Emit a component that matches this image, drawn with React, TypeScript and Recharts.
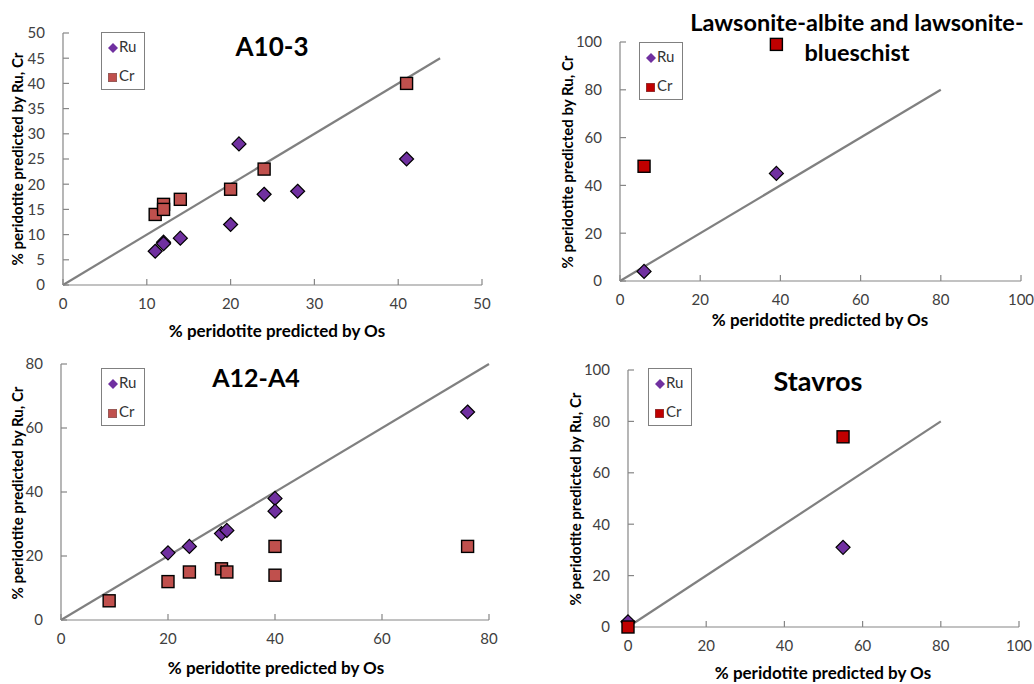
import React from "react";
import { ScatterChart, Scatter, XAxis, YAxis, ReferenceLine } from "recharts";

// A10-3
const a10RuOs = [11, 12, 12, 14, 20, 21, 24, 28, 41];
const a10RuPred = [6.7, 8.5, 8.2, 9.3, 12, 28, 18, 18.6, 25];
const a10CrOs = [11, 12, 12, 14, 20, 24, 41];
const a10CrPred = [14, 16, 15, 17, 19, 23, 40];
const a10Ticks = [0, 10, 20, 30, 40, 50];
const a10YTicks = [0, 5, 10, 15, 20, 25, 30, 35, 40, 45, 50];

// Lawsonite-albite and lawsonite-blueschist
const lawRuOs = [6, 39];
const lawRuPred = [4, 45];
const lawCrOs = [6, 39];
const lawCrPred = [48, 99];

// A12-A4
const a12RuOs = [20, 24, 30, 31, 40, 40, 76];
const a12RuPred = [21, 23, 27, 28, 38, 34, 65];
const a12CrOs = [9, 20, 24, 30, 31, 40, 40, 76];
const a12CrPred = [6, 12, 15, 16, 15, 23, 14, 23];
const a12Ticks = [0, 20, 40, 60, 80];

// Stavros
const stavRuOs = [0, 55];
const stavRuPred = [2, 31];
const stavCrOs = [0, 55];
const stavCrPred = [0, 74];

const pctTicks = [0, 20, 40, 60, 80, 100];

const RU = "#7030A0";
const CR_LIGHT = "#C0504D";
const CR_DARK = "#C00000";
const FONT = "Lato, 'Open Sans', sans-serif";

const zip = (xs: number[], ys: number[]) => xs.map((x, i) => ({ x, y: ys[i] }));

const Diamond = (props: any) => {
  const { cx, cy } = props;
  const r = 7;
  return (
    <path
      d={`M${cx},${cy - r}L${cx + r},${cy}L${cx},${cy + r}L${cx - r},${cy}Z`}
      fill={RU}
      stroke="#000"
      strokeWidth={1.2}
    />
  );
};

const makeSquare = (fill: string) => (props: any) => {
  const { cx, cy } = props;
  const s = 12;
  return (
    <rect
      x={cx - s / 2}
      y={cy - s / 2}
      width={s}
      height={s}
      fill={fill}
      stroke="#000"
      strokeWidth={1.4}
    />
  );
};

const LegendBox = ({ crColor, left, top }: { crColor: string; left: number; top: number }) => (
  <div
    style={{
      position: "absolute",
      left,
      top,
      width: 44,
      height: 58,
      border: "1px solid #808080",
      background: "#fff",
      fontFamily: FONT,
      fontSize: 15,
      color: "#333",
      boxSizing: "border-box",
    }}
  >
    <svg width={10} height={10} style={{ position: "absolute", left: 6, top: 10 }}>
      <path d="M5,0L10,5L5,10L0,5Z" fill={RU} />
    </svg>
    <span style={{ position: "absolute", left: 17, top: 4 }}>Ru</span>
    <svg width={9} height={9} style={{ position: "absolute", left: 6, top: 40 }}>
      <rect x={0} y={0} width={9} height={9} fill={crColor} stroke="#666" strokeWidth={0.8} />
    </svg>
    <span style={{ position: "absolute", left: 17, top: 33 }}>Cr</span>
  </div>
);

interface PanelProps {
  left: number;
  top: number;
  width: number;
  height: number;
  margin: { top: number; right: number; bottom: number; left: number };
  domain: number;
  xTicks: number[];
  yTicks: number[];
  lineEnd: number;
  ru: { x: number; y: number }[];
  cr: { x: number; y: number }[];
  crColor: string;
}

function Panel(p: PanelProps) {
  const tick = { fill: "#404040", fontSize: 15, fontFamily: FONT };
  return (
    <div style={{ position: "absolute", left: p.left, top: p.top }}>
      <ScatterChart width={p.width} height={p.height} margin={p.margin}>
        <XAxis
          type="number"
          dataKey="x"
          domain={[0, p.domain]}
          ticks={p.xTicks}
          height={30}
          tick={tick}
          tickSize={-6}
          tickMargin={19}
          stroke="#868686"
          strokeWidth={1.2}
        />
        <YAxis
          type="number"
          dataKey="y"
          domain={[0, p.yTicks[p.yTicks.length - 1]]}
          ticks={p.yTicks}
          width={40}
          tick={tick}
          tickSize={-6}
          tickMargin={24}
          stroke="#868686"
          strokeWidth={1.2}
        />
        <ReferenceLine
          segment={[
            { x: 0, y: 0 },
            { x: p.lineEnd, y: p.lineEnd },
          ]}
          stroke="#808080"
          strokeWidth={2.2}
          ifOverflow="visible"
        />
        <Scatter name="Ru" data={p.ru} shape={Diamond} isAnimationActive={false} />
        <Scatter name="Cr" data={p.cr} shape={makeSquare(p.crColor)} isAnimationActive={false} />
      </ScatterChart>
    </div>
  );
}

const absText = (
  text: React.ReactNode,
  cx: number,
  cy: number,
  size: number,
  rotate = false,
  extra: React.CSSProperties = {}
) => (
  <div
    style={{
      position: "absolute",
      left: cx,
      top: cy,
      transform: `translate(-50%, -50%)${rotate ? " rotate(-90deg)" : ""}`,
      whiteSpace: "nowrap",
      fontFamily: FONT,
      fontWeight: 700,
      fontSize: size,
      color: "#000",
      lineHeight: 1.1,
      textAlign: "center",
      ...extra,
    }}
  >
    {text}
  </div>
);

export default function App() {
  const yLabel = "% peridotite predicted by Ru, Cr";
  const xLabel = "% peridotite predicted by Os";
  return (
    <div
      style={{
        position: "absolute",
        left: 0,
        top: 0,
        width: 1034,
        height: 684,
        background: "#fff",
        overflow: "hidden",
      }}
    >
      <Panel
        left={0}
        top={0}
        width={500}
        height={340}
        margin={{ top: 33, right: 18, bottom: 25, left: 23 }}
        domain={50}
        xTicks={a10Ticks}
        yTicks={a10YTicks}
        lineEnd={45}
        ru={zip(a10RuOs, a10RuPred)}
        cr={zip(a10CrOs, a10CrPred)}
        crColor={CR_LIGHT}
      />
      <Panel
        left={560}
        top={0}
        width={474}
        height={340}
        margin={{ top: 42, right: 13, bottom: 29, left: 20 }}
        domain={100}
        xTicks={pctTicks}
        yTicks={pctTicks}
        lineEnd={80}
        ru={zip(lawRuOs, lawRuPred)}
        cr={zip(lawCrOs, lawCrPred)}
        crColor={CR_DARK}
      />
      <Panel
        left={0}
        top={340}
        width={500}
        height={344}
        margin={{ top: 24, right: 11, bottom: 34, left: 21 }}
        domain={80}
        xTicks={a12Ticks}
        yTicks={a12Ticks}
        lineEnd={80}
        ru={zip(a12RuOs, a12RuPred)}
        cr={zip(a12CrOs, a12CrPred)}
        crColor={CR_LIGHT}
      />
      <Panel
        left={560}
        top={340}
        width={474}
        height={344}
        margin={{ top: 30, right: 15, bottom: 27, left: 28 }}
        domain={100}
        xTicks={pctTicks}
        yTicks={pctTicks}
        lineEnd={80}
        ru={zip(stavRuOs, stavRuPred)}
        cr={zip(stavCrOs, stavCrPred)}
        crColor={CR_DARK}
      />

      <LegendBox crColor={CR_LIGHT} left={101} top={32} />
      <LegendBox crColor={CR_DARK} left={639} top={42} />
      <LegendBox crColor={CR_LIGHT} left={101} top={368} />
      <LegendBox crColor={CR_DARK} left={648} top={368} />

      {absText("A10-3", 272, 46, 26)}
      {absText(
        <>
          Lawsonite-albite and lawsonite-
          <br />
          blueschist
        </>,
        857,
        37,
        23.5,
        false,
        { lineHeight: "30px" }
      )}
      {absText("A12-A4", 256, 378, 25)}
      {absText("Stavros", 818, 381, 27)}

      {absText(xLabel, 277, 331, 17)}
      {absText(xLabel, 820, 320, 17)}
      {absText(xLabel, 276, 668, 17)}
      {absText(xLabel, 823, 673, 17)}

      {absText(yLabel, 17, 159, 15, true)}
      {absText(yLabel, 567, 162, 15, true)}
      {absText(yLabel, 17, 493, 15, true)}
      {absText(yLabel, 575, 499, 15, true)}
    </div>
  );
}
